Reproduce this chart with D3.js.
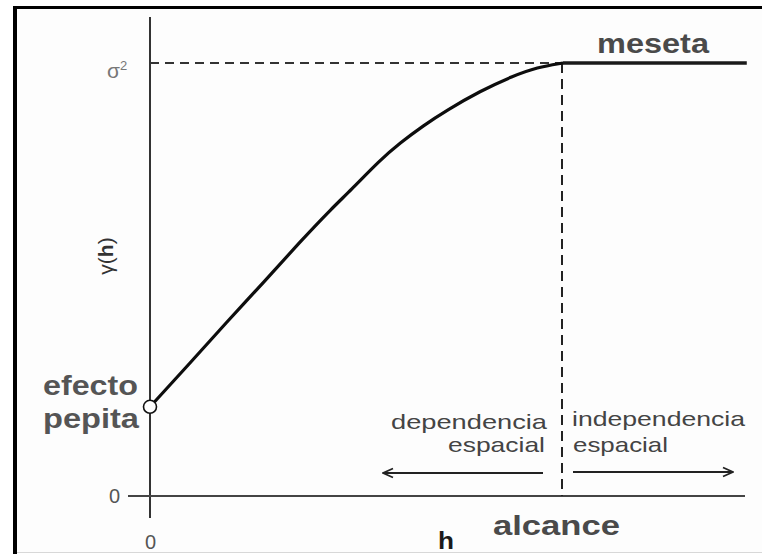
<!DOCTYPE html>
<html>
<head>
<meta charset="utf-8">
<script src="https://cdn.jsdelivr.net/npm/d3@7"></script>
<style>
  html, body { margin: 0; padding: 0; background: #ffffff; }
  svg { display: block; font-family: "Liberation Sans", Arial, sans-serif; }
</style>
</head>
<body>
<svg id="chart" width="762" height="554"></svg>
<script>
// Semivariogram: lag distance h vs semivariance γ(h)
const lagValues   = [0, 0.97, 1.86, 2.74, 3.63, 4.43, 4.84, 5.57, 6.05, 6.61, 7.19, 7.99, 8.79, 9.37, 10];
const gammaValues = [0.206, 0.307, 0.402, 0.492, 0.587, 0.667, 0.704, 0.776, 0.815, 0.855, 0.891, 0.935, 0.970, 0.990, 1.0];
const nugget = 0.206;      // efecto pepita
const sill = 1.0;          // meseta (σ²)
const rangeLag = 10;       // alcance
const maxLag = 14.45;      // end of the plateau
const xTicks = [0];
const yTicks = [0];

const svg = d3.select("#chart");

// frame
svg.append("rect").attr("x", 15).attr("y", 7.5).attr("width", 760).attr("height", 545)
  .attr("fill", "#fdfdfd").attr("stroke", "none");
svg.append("line").attr("x1", 13).attr("x2", 762).attr("y1", 7.5).attr("y2", 7.5)
  .attr("stroke", "#000").attr("stroke-width", 3);
svg.append("line").attr("x1", 15).attr("x2", 15).attr("y1", 6).attr("y2", 554)
  .attr("stroke", "#000").attr("stroke-width", 4);
svg.append("line").attr("x1", 17).attr("x2", 762).attr("y1", 552.5).attr("y2", 552.5)
  .attr("stroke", "#d8d8d8").attr("stroke-width", 1);

const x = d3.scaleLinear().domain([0, rangeLag]).range([150, 563]);
const y = d3.scaleLinear().domain([0, sill]).range([496, 63]);

// axis lines
svg.append("line").attr("x1", x(0)).attr("x2", x(0)).attr("y1", 17).attr("y2", 518)
  .attr("stroke", "#333").attr("stroke-width", 2);
svg.append("line").attr("x1", 128).attr("x2", 745).attr("y1", y(0)).attr("y2", y(0))
  .attr("stroke", "#444").attr("stroke-width", 2.2);

// tick labels
const yAxis = svg.append("g").attr("transform", `translate(${x(0)},0)`)
  .call(d3.axisLeft(y).tickValues(yTicks).tickSize(0).tickPadding(30).tickFormat(d3.format("d")));
const xAxis = svg.append("g").attr("transform", `translate(0,${y(0)})`)
  .call(d3.axisBottom(x).tickValues(xTicks).tickSize(0).tickPadding(39).tickFormat(d3.format("d")));
[yAxis, xAxis].forEach(g => {
  g.select(".domain").remove();
  g.selectAll("text").attr("font-size", 20).attr("fill", "#555")
    .attr("font-family", "Liberation Sans, Arial, sans-serif");
});

// dashed reference lines at the sill and the range
svg.append("line").attr("x1", x(0)).attr("x2", x(rangeLag)).attr("y1", y(sill)).attr("y2", y(sill))
  .attr("stroke", "#333").attr("stroke-width", 2).attr("stroke-dasharray", "9,6");
svg.append("line").attr("x1", x(rangeLag) - 1).attr("x2", x(rangeLag) - 1).attr("y1", y(sill)).attr("y2", y(0))
  .attr("stroke", "#222").attr("stroke-width", 2).attr("stroke-dasharray", "10,6");

// plateau
svg.append("line").attr("x1", x(rangeLag)).attr("x2", x(maxLag)).attr("y1", y(sill)).attr("y2", y(sill))
  .attr("stroke", "#1a1a1a").attr("stroke-width", 3.5);

// variogram curve
const points = lagValues.map((h, i) => [h, gammaValues[i]]);
svg.append("path").datum(points)
  .attr("d", d3.line().x(d => x(d[0])).y(d => y(d[1])).curve(d3.curveBasis))
  .attr("fill", "none").attr("stroke", "#0d0d0d").attr("stroke-width", 3.2)
  .attr("stroke-linejoin", "round");

// nugget marker
svg.append("circle").attr("cx", x(0)).attr("cy", y(nugget)).attr("r", 6.5)
  .attr("fill", "#fff").attr("stroke", "#111").attr("stroke-width", 1.6);

// arrows
const defs = svg.append("defs");
defs.append("marker").attr("id", "arrowHead").attr("viewBox", "0 0 12 12")
  .attr("refX", 11).attr("refY", 6).attr("markerWidth", 12).attr("markerHeight", 12)
  .attr("markerUnits", "userSpaceOnUse").attr("orient", "auto-start-reverse")
  .append("path").attr("d", "M1,1.5 L11,6 L1,10.5").attr("fill", "none")
  .attr("stroke", "#222").attr("stroke-width", 1.8);

svg.append("line").attr("x1", 543).attr("x2", 383).attr("y1", 473).attr("y2", 473)
  .attr("stroke", "#222").attr("stroke-width", 1.8).attr("marker-end", "url(#arrowHead)");
svg.append("line").attr("x1", 573).attr("x2", 733).attr("y1", 472).attr("y2", 472)
  .attr("stroke", "#222").attr("stroke-width", 1.8).attr("marker-end", "url(#arrowHead)");

// text labels
function label(txt, xPos, yPos, size, weight, color, len) {
  const t = svg.append("text").attr("x", xPos).attr("y", yPos)
    .attr("font-size", size).attr("font-weight", weight).attr("fill", color).text(txt);
  if (len) t.attr("textLength", len).attr("lengthAdjust", "spacingAndGlyphs");
  return t;
}
label("meseta", 597, 53, 28, "bold", "#4a4a4a", 112);
label("alcance", 493, 535, 28, "bold", "#4a4a4a", 127);
label("efecto", 43, 395, 28, "bold", "#555", 95);
label("pepita", 43, 428, 28, "bold", "#555", 96);
label("dependencia", 391, 429, 21, "normal", "#444", 156);
label("espacial", 448, 452, 21, "normal", "#444", 97);
label("independencia", 572, 426, 21, "normal", "#444", 173);
label("espacial", 573, 452, 21, "normal", "#444", 95);
label("h", 438, 549, 23, "bold", "#1a1a1a", 16);

// σ² label
const s2 = svg.append("text").attr("x", 107).attr("y", 78).attr("font-size", 21).attr("fill", "#777");
s2.append("tspan").text("σ");
s2.append("tspan").attr("font-size", 13).attr("dy", -8).text("2");

// y-axis title
const yt = svg.append("text").attr("transform", "translate(113,256) rotate(-90)")
  .attr("text-anchor", "middle").attr("font-size", 21).attr("fill", "#333");
yt.append("tspan").text("γ");
yt.append("tspan").text("(");
yt.append("tspan").attr("font-weight", "bold").text("h");
yt.append("tspan").text(")");
</script>
</body>
</html>
